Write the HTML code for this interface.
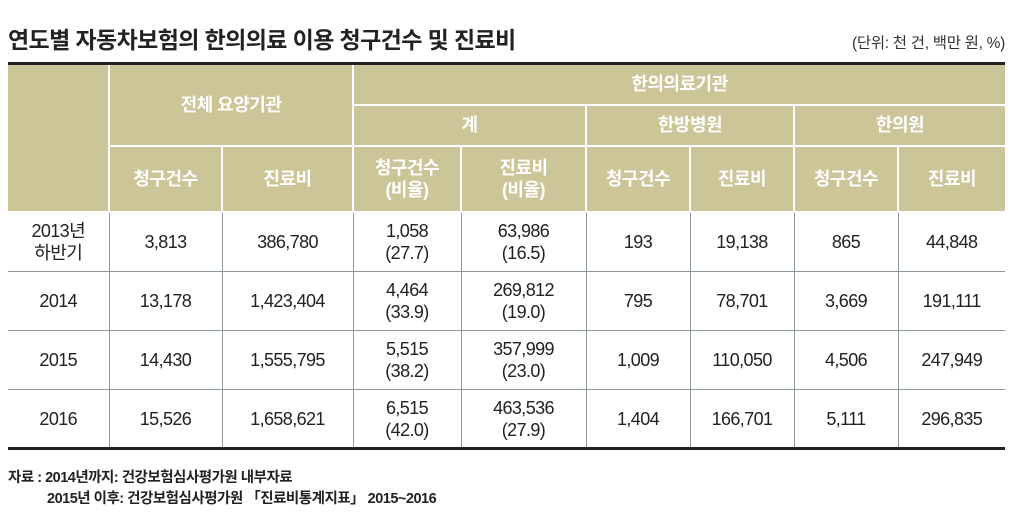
<!DOCTYPE html>
<html><head><meta charset="utf-8"><style>
body{margin:0;width:1024px;height:515px;background:#fff;position:relative;overflow:hidden;font-family:"Liberation Sans","Noto Sans CJK KR",sans-serif;}
.title{position:absolute;left:8px;top:21px;font-size:23px;font-weight:bold;color:#222;letter-spacing:-0.6px;}
.unit{position:absolute;right:19px;top:31px;font-size:15.5px;color:#333;letter-spacing:-0.3px;}
table{position:absolute;left:8px;top:62px;border-collapse:collapse;table-layout:fixed;border-top:3px solid #222;border-bottom:3px solid #222;}
td,th{padding:0;text-align:center;}
th{background:#cbc597;color:#fff;font-size:18px;font-weight:bold;border:2px solid #fff;letter-spacing:-0.5px;line-height:22px;}
th.first{border-left:none;}
th.last{border-right:none;}
tr.top th{border-top:none;}
td{font-size:18px;color:#222;border:1px solid #8a979c;line-height:22px;letter-spacing:-0.6px;}
td:first-child{border-left:none;}
td:last-child{border-right:none;}
.foot{position:absolute;left:8px;font-size:14.5px;font-weight:bold;color:#222;letter-spacing:-0.5px;}
</style></head><body>
<div class="title">연도별 자동차보험의 한의의료 이용 청구건수 및 진료비</div>
<div class="unit">(단위: 천 건, 백만 원, %)</div>
<table>
<colgroup><col style="width:101px"><col style="width:113px"><col style="width:131px"><col style="width:108px"><col style="width:125px"><col style="width:104px"><col style="width:104px"><col style="width:104px"><col style="width:107px"></colgroup>
<tr class="top" style="height:41px"><th class="first" rowspan="3"></th><th colspan="2" rowspan="2">전체 요양기관</th><th colspan="6" class="last">한의의료기관</th></tr>
<tr style="height:41px"><th colspan="2">계</th><th colspan="2">한방병원</th><th colspan="2" class="last">한의원</th></tr>
<tr style="height:66px"><th>청구건수</th><th>진료비</th><th>청구건수<br>(비율)</th><th>진료비<br>(비율)</th><th>청구건수</th><th>진료비</th><th>청구건수</th><th class="last">진료비</th></tr>
<tr style="height:60px"><td>2013년<br>하반기</td><td>3,813</td><td>386,780</td><td>1,058<br>(27.7)</td><td>63,986<br>(16.5)</td><td>193</td><td>19,138</td><td>865</td><td>44,848</td></tr>
<tr style="height:59px"><td>2014</td><td>13,178</td><td>1,423,404</td><td>4,464<br>(33.9)</td><td>269,812<br>(19.0)</td><td>795</td><td>78,701</td><td>3,669</td><td>191,111</td></tr>
<tr style="height:59px"><td>2015</td><td>14,430</td><td>1,555,795</td><td>5,515<br>(38.2)</td><td>357,999<br>(23.0)</td><td>1,009</td><td>110,050</td><td>4,506</td><td>247,949</td></tr>
<tr style="height:59px"><td>2016</td><td>15,526</td><td>1,658,621</td><td>6,515<br>(42.0)</td><td>463,536<br>(27.9)</td><td>1,404</td><td>166,701</td><td>5,111</td><td>296,835</td></tr>
</table>
<div class="foot" style="top:466px">자료 : 2014년까지: 건강보험심사평가원 내부자료</div>
<div class="foot" style="top:487px;left:47px">2015년 이후: 건강보험심사평가원 「진료비통계지표」 2015~2016</div>
</body></html>
